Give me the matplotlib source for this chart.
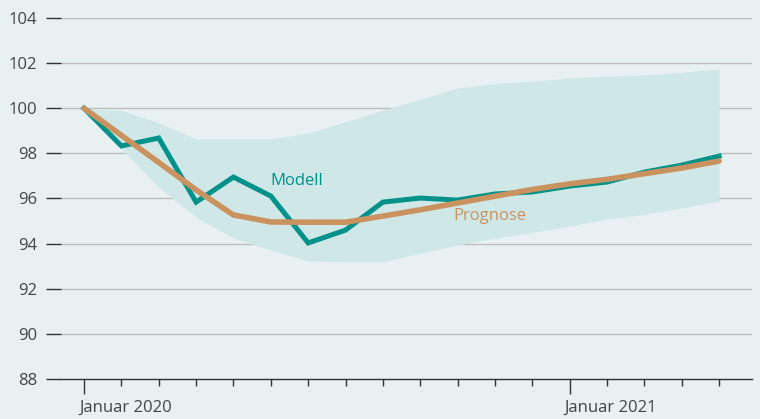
import numpy as np
import matplotlib.pyplot as plt
import matplotlib.transforms as mtransforms

plt.rcParams['font.family'] = ['Open Sans', 'DejaVu Sans']

# monthly index, first point = Januar 2020
months = np.arange(18)
modell = [100.0, 98.33, 98.68, 95.84, 96.95, 96.11, 94.03, 94.6, 95.84, 96.02,
          95.93, 96.2, 96.29, 96.55, 96.73, 97.17, 97.48, 97.88]
prognose = [100.0, 98.8, 97.6, 96.38, 95.27, 94.96, 94.95, 94.95, 95.22, 95.5,
            95.8, 96.1, 96.4, 96.65, 96.85, 97.1, 97.35, 97.66]
band_upper = [100.0, 99.9, 99.35, 98.64, 98.64, 98.64, 98.9, 99.4, 99.92, 100.4,
              100.9, 101.1, 101.2, 101.34, 101.43, 101.47, 101.6, 101.74]
band_lower = [100.0, 98.2, 96.5, 95.18, 94.25, 93.72, 93.23, 93.2, 93.2, 93.58,
              93.94, 94.25, 94.5, 94.78, 95.09, 95.3, 95.58, 95.89]
yticks = [88, 90, 92, 94, 96, 98, 100, 102, 104]
major_pos = [0, 13]
major_labels = ['Januar 2020', 'Januar 2021']

bg = '#e8f0f2'
teal = '#00918a'
tan = '#c9925f'
band_col = '#cfe7e7'
txt = '#444444'

fig = plt.figure(figsize=(7.6, 4.19), dpi=100, facecolor=bg)
ax = fig.add_axes([61 / 760, 1 - 379 / 419, (752 - 61) / 760, (379 - 18) / 419])
ax.set_facecolor(bg)

ax.fill_between(months, band_lower, band_upper, color=band_col, lw=0, zorder=1)
ax.plot(months, modell, color=teal, lw=3.6, solid_joinstyle='miter', zorder=3)
ax.plot(months, prognose, color=tan, lw=4.0, solid_capstyle='round',
        solid_joinstyle='round', zorder=4)

ax.text(5.0, 96.78, 'Modell', color=teal, fontsize=12, ha='left', va='center')
ax.text(9.88, 95.22, 'Prognose', color=tan, fontsize=12, ha='left', va='center')

ax.set_xlim(-0.616, 17.88)
ax.set_ylim(88, 104)

ax.set_yticks(yticks)
ax.set_yticklabels([str(v) for v in yticks])
for v in yticks[1:]:
    ax.axhline(v, color='#bdbdbd', lw=1.0, zorder=0.5)

for s in ['top', 'right', 'left']:
    ax.spines[s].set_visible(False)
ax.spines['bottom'].set_color('#333333')
ax.spines['bottom'].set_linewidth(1.0)

ax.tick_params(axis='y', length=11, width=1.0, color='#333333', pad=6,
               labelsize=12, labelcolor=txt)
ax.set_xticks(major_pos)
ax.set_xticklabels(major_labels)
ax.set_xticks(months, minor=True)
ax.tick_params(axis='x', which='major', length=11, width=1.0, color='#333333',
               pad=4, labelsize=12, labelcolor=txt)
ax.tick_params(axis='x', which='minor', length=5, width=1.0, color='#333333')

# labels start just left of the major tick
shift = mtransforms.ScaledTranslation(-5 / 100, 0, fig.dpi_scale_trans)
for lab in ax.get_xticklabels():
    lab.set_horizontalalignment('left')
    lab.set_transform(lab.get_transform() + shift)

fig.savefig('out.png', dpi=100, facecolor=bg)
